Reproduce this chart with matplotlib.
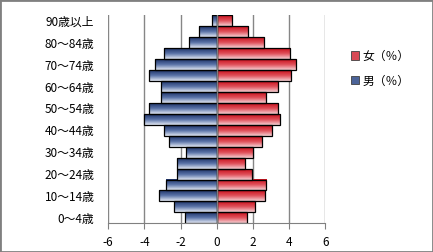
import matplotlib
matplotlib.use('Agg')
import matplotlib.pyplot as plt
import numpy as np
from matplotlib.colors import LinearSegmentedColormap
from matplotlib.patches import Patch, Rectangle

plt.rcParams['font.family'] = ['Noto Sans CJK JP', 'DejaVu Sans']

# age groups, bottom to top
ages = ['0～4歳', '5～9歳', '10～14歳', '15～19歳', '20～24歳', '25～29歳',
        '30～34歳', '35～39歳', '40～44歳', '45～49歳', '50～54歳', '55～59歳',
        '60～64歳', '65～69歳', '70～74歳', '75～79歳', '80～84歳', '85～89歳',
        '90歳以上']
male = [-1.73, -2.34, -3.17, -2.78, -2.18, -2.18, -1.68, -2.62, -2.9, -4.05,
        -3.76, -3.06, -3.09, -3.76, -3.39, -2.9, -1.55, -1.0, -0.28]
female = [1.69, 2.13, 2.65, 2.74, 1.93, 1.58, 2.02, 2.52, 3.06, 3.51,
          3.4, 2.7, 3.4, 4.12, 4.4, 4.07, 2.63, 1.75, 0.83]
xticks = [-6, -4, -2, 0, 2, 4, 6]

blue_cm = LinearSegmentedColormap.from_list('b', ['#1d3268', '#5b74a8', '#e4e9f4'])
red_cm = LinearSegmentedColormap.from_list('r', ['#c8101c', '#e0505a', '#f6d0d4'])

fig = plt.figure(figsize=(4.33, 2.52), dpi=100)
ax = fig.add_axes([0.250, 0.114, 0.501, 0.8245])

grad = np.linspace(0, 1, 64).reshape(-1, 1)
h = 1.0

def gbar(y, x0, x1, cmap):
    # gradient filled bar, dark on top
    lo, hi = min(x0, x1), max(x0, x1)
    ax.imshow(grad, cmap=cmap, aspect='auto', extent=[lo, hi, y - h / 2, y + h / 2],
              origin='upper', zorder=2, interpolation='bilinear')
    ax.add_patch(Rectangle((lo, y - h / 2), hi - lo, h, fill=False,
                           edgecolor='black', linewidth=0.9, zorder=3))

for i in range(len(ages)):
    gbar(i, 0, male[i], blue_cm)
    gbar(i, 0, female[i], red_cm)

ax.set_xlim(-6, 6)
ax.set_ylim(-0.5, len(ages) - 0.5)
ax.set_xticks(xticks)
ax.set_xticklabels([str(t) for t in xticks], fontsize=8.5)
ax.set_yticks(range(0, len(ages), 2))
ax.set_yticklabels(ages[::2], fontsize=8.5)
ax.tick_params(axis='y', length=0, pad=10)
ax.tick_params(axis='x', length=4, color='#808080', pad=5)
for t in xticks:
    ax.axvline(t, color='#868686', linewidth=1, zorder=1)
ax.axvline(0, color='#808080', linewidth=1, zorder=4)
for s in ['top', 'right', 'left']:
    ax.spines[s].set_visible(False)
ax.spines['bottom'].set_color('#808080')

handles = [Patch(facecolor='#d84a55', edgecolor='#404040', linewidth=0.6),
           Patch(facecolor='#4b6398', edgecolor='#404040', linewidth=0.6)]
fig.legend(handles, ['女（％）', '男（％）'], loc='upper left',
           bbox_to_anchor=(0.785, 0.845), frameon=False, fontsize=8.5,
           handlelength=0.7, handleheight=0.7, handletextpad=0.3, labelspacing=1.0)

fig.patches.append(Rectangle((0, 0), 1, 1, transform=fig.transFigure, fill=False,
                             edgecolor='#808080', linewidth=2))

fig.savefig('out.png', dpi=100)
